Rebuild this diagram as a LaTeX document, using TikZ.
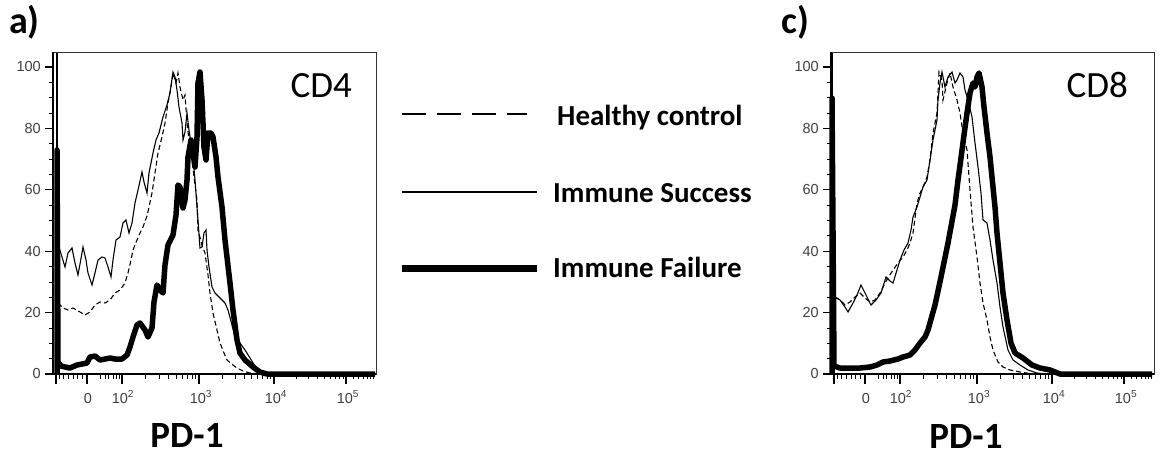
\documentclass[tikz,border=0pt]{standalone}
\usepackage{fontspec}
\setmainfont{Carlito}
\newfontfamily\tickfont{Liberation Sans}
\usepackage{tikz}

\tikzset{
  frame/.style={line width=1pt, black!80},
  axisline/.style={line width=1.2pt, black},
  ticklab/.style={inner sep=0pt, font=\tickfont\fontsize{14.5}{15}\selectfont, text=black!75},
  healthy/.style={line width=1.1pt, dash pattern=on 5pt off 3pt},
  success/.style={line width=1.1pt},
  failure/.style={line width=5.5pt, line join=round},
  leglab/.style={anchor=base west, inner sep=0pt, font=\bfseries\fontsize{29}{34}\selectfont},
  panlab/.style={anchor=base west, inner sep=0pt, font=\bfseries\fontsize{38}{40}\selectfont},
  xtitle/.style={anchor=base, inner sep=0pt, font=\bfseries\fontsize{37}{40}\selectfont},
  cellname/.style={anchor=base east, inner sep=0pt, font=\fontsize{37}{40}\selectfont}
}

\begin{document}
\begin{tikzpicture}[x=1pt, y=-1pt]

\useasboundingbox (0,0) rectangle (1160,466);

%% Axes of both panels

\foreach \sx/\p in {0/a, 778/c} {
\begin{scope}[shift={(\sx,0)}]
  % box
  \draw [frame] (53,52) rectangle (376,374);
  \draw [axisline] (53,52) -- (53,374) -- (376,374);
  % y ticks
  \foreach \v in {0,5,...,100}
    \draw [axisline, line width=.8pt] (49,{374-3.07*\v}) -- (53,{374-3.07*\v});
  \foreach \v in {0,20,...,100} {
    \draw [axisline] (45,{374-3.07*\v}) -- (53,{374-3.07*\v});
    \node [ticklab, anchor=east] (ylab\p\v) at (41,{374-3.07*\v}) {\v};
  }
  % x ticks
  \foreach \t in {59,63,68,73,77,82,100,105,108,113,116,119,145,159,168,176,182,187,192,195,
                  222,235,244,251,257,262,267,270,296,308,317,324,330,335,339,343,353,358,363,367,370,373}
    \draw [axisline, line width=.8pt] (\t,374) -- (\t,379);
  \foreach \t in {56,87,122,199,274,346}
    \draw [axisline] (\t,374) -- (\t,384);
  \node [ticklab, anchor=base] (xlab\p0) at (88,403) {0};
  \node [ticklab, anchor=base] (xlab\p2) at (123,403) {10\textsuperscript{2}};
  \node [ticklab, anchor=base] (xlab\p3) at (201,403) {10\textsuperscript{3}};
  \node [ticklab, anchor=base] (xlab\p4) at (276,403) {10\textsuperscript{4}};
  \node [ticklab, anchor=base] (xlab\p5) at (348,403) {10\textsuperscript{5}};
\end{scope}
}

%% Panel a (CD4)

\node [panlab] (pana) at (9,33) {a)};
\node [cellname] (cd4) at (352,97) {CD4};
\node [xtitle] (pda) at (187,447) {PD-1};

% healthy control
\draw [healthy] plot coordinates {(58,303) (63,308) (68,310) (73,308) (80,312) (85,315) (90,312) (95,305) (100,302) (105,303) (110,300) (115,293) (120,290) (125,283) (128,273) (131,260) (133,250) (137,240) (140,233) (143,227) (147,216) (149,207) (152,193) (155,173) (158,153) (162,137) (165,123) (168,103) (171,87) (173,73) (176,83) (178,73) (180,87) (183,100) (185,95) (187,123) (189,140) (192,160) (194,177) (197,200) (198,230) (202,245) (205,253) (208,275) (210,293) (213,313) (217,330) (220,343) (224,353) (227,360) (233,365) (237,368) (243,371) (250,373) (263,374)};

% immune success
\draw [success] plot coordinates {(57,147) (59,247) (62,257) (65,267) (68,253) (72,248) (75,263) (78,275) (82,253) (83,247) (86,260) (88,273) (92,285) (95,273) (98,260) (102,257) (105,258) (108,267) (111,277) (113,260) (116,240) (120,237) (123,223) (126,220) (129,233) (132,223) (135,203) (138,190) (142,172) (144,182) (147,193) (149,173) (153,153) (156,140) (159,133) (163,117) (167,105) (170,93) (173,72) (175,77) (177,90) (179,107) (182,123) (183,140) (185,132) (187,113) (189,130) (193,157) (195,180) (197,207) (200,248) (202,247) (204,233) (206,230) (207,250) (209,267) (212,287) (215,293) (220,298) (225,303) (228,310) (232,325) (235,337) (240,343) (245,350) (250,358) (255,366) (260,371) (267,374)};

% immune failure
\draw [success] (57,150) -- (57,53);
\draw [failure] plot coordinates {(57,374) (57,150) (58,362) (61,366) (65,367) (70,368) (77,365) (82,364) (87,363) (90,357) (95,356) (100,360) (105,359) (110,358) (115,359) (122,359) (127,355) (130,347) (133,337) (137,325) (140,323) (145,330) (148,337) (152,328) (154,302) (157,285) (160,290) (163,293) (165,265) (168,245) (173,235) (176,215) (178,185) (180,187) (183,208) (185,200) (187,180) (188,157) (191,140) (193,153) (195,167) (197,137) (198,83) (200,72) (202,100) (204,147) (206,160) (208,133) (211,133) (213,137) (216,157) (218,177) (222,207) (225,240) (230,283) (233,310) (237,340) (240,353) (245,360) (253,367) (260,372) (267,374) (375,374)};

%% Legend

\coordinate (hcA) at (402,114); \coordinate (hcB) at (527,114);
\coordinate (isA) at (402,192); \coordinate (isB) at (537,192);
\coordinate (ifA) at (402,268); \coordinate (ifB) at (537,268);
\draw [line width=2.5pt, dash pattern=on 24pt off 11pt] (hcA) -- (hcB);
\draw [line width=1.7pt] (isA) -- (isB);
\draw [line width=7pt] (ifA) -- (ifB);
\node [leglab] (hclab) at (557,125) {Healthy control};
\node [leglab] (islab) at (553,202) {Immune Success};
\node [leglab] (iflab) at (553,277) {Immune Failure};

%% Panel c (CD8)

\node [panlab] (panc) at (781,33) {c)};
\node [cellname] (cd8) at (1128,97) {CD8};
\node [xtitle] (pdc) at (966,448) {PD-1};

% healthy control
\draw [healthy] plot coordinates {(835,297) (840,300) (845,305) (850,302) (855,297) (860,293) (865,298) (870,302) (875,300) (880,293) (885,283) (888,278) (893,270) (898,263) (903,257) (907,250) (910,243) (913,233) (917,203) (920,193) (923,187) (927,177) (930,160) (933,133) (937,113) (939,72) (942,80) (943,100) (947,83) (950,73) (953,87) (957,100) (960,113) (963,133) (967,150) (970,190) (973,227) (977,257) (980,283) (983,303) (987,320) (990,337) (993,350) (998,362) (1003,367) (1010,370) (1020,372) (1033,374)};

% immune success
\draw [success] plot coordinates {(835,297) (840,300) (845,307) (848,312) (853,303) (857,295) (861,285) (866,295) (871,305) (876,300) (881,293) (886,277) (890,281) (893,283) (897,270) (900,260) (904,250) (908,243) (911,230) (913,217) (917,207) (920,197) (923,187) (927,180) (930,160) (933,140) (937,120) (938,100) (940,83) (942,72) (945,87) (948,77) (952,72) (955,83) (957,80) (960,73) (963,77) (965,90) (968,100) (972,117) (975,143) (978,167) (981,193) (983,220) (987,223) (990,240) (993,260) (997,283) (1000,307) (1003,327) (1008,350) (1013,360) (1020,365) (1028,370) (1037,373) (1047,374)};

% immune failure
\draw [success] (832,98) -- (832,53);
\draw [failure] plot coordinates {(832,374) (832,98) (834,366) (840,368) (850,368) (860,368) (870,367) (877,365) (883,362) (890,361) (898,359) (903,357) (910,355) (915,350) (920,343) (925,337) (928,330) (935,305) (941,277) (948,243) (955,205) (958,180) (961,158) (964,135) (967,113) (970,93) (973,83) (975,87) (977,77) (979,73) (982,87) (984,107) (987,133) (990,157) (993,187) (995,207) (997,233) (1000,263) (1003,293) (1007,320) (1011,343) (1015,353) (1023,358) (1032,365) (1040,368) (1050,370) (1060,374) (1152,374)};

\end{tikzpicture}
\end{document}
